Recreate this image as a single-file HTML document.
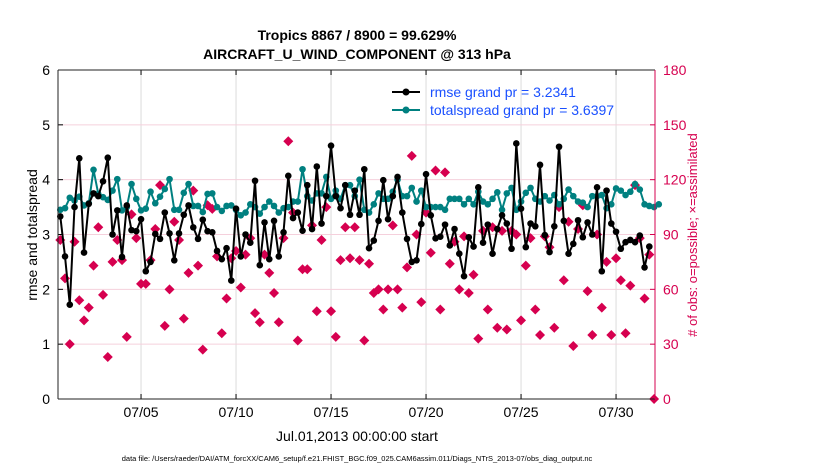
<!DOCTYPE html>
<html><head><meta charset="utf-8">
<style>
body{margin:0;background:#fff;width:830px;height:470px;overflow:hidden;font-family:"Liberation Sans",Arial,sans-serif;}
</style></head>
<body>
<svg id="chart" width="830" height="470" xmlns="http://www.w3.org/2000/svg" font-family="Liberation Sans, Arial, sans-serif">
<text x="357" y="40" text-anchor="middle" font-size="14" font-weight="bold">Tropics 8867 / 8900 = 99.629%</text>
<text x="357" y="59" text-anchor="middle" font-size="14" font-weight="bold">AIRCRAFT_U_WIND_COMPONENT @ 313 hPa</text>
<g id="grid"></g>
<g id="marks"></g>
<g id="axes"></g>
<text transform="translate(37,235) rotate(-90)" text-anchor="middle" font-size="14">rmse and totalspread</text>
<text transform="translate(697,235) rotate(-90)" text-anchor="middle" font-size="13" fill="#d6004f"># of obs: o=possible; ×=assimilated</text>
<text x="357" y="441" text-anchor="middle" font-size="14">Jul.01,2013 00:00:00 start</text>
<text x="357" y="461" text-anchor="middle" font-size="7.5">data file: /Users/raeder/DAI/ATM_forcXX/CAM6_setup/f.e21.FHIST_BGC.f09_025.CAM6assim.011/Diags_NTrS_2013-07/obs_diag_output.nc</text>
<g>
<line x1="392" y1="92" x2="420" y2="92" stroke="#000" stroke-width="2"/>
<circle cx="406" cy="92" r="3.5" fill="#000"/>
<text x="430" y="97" font-size="14" fill="#1a50ff">rmse grand pr = 3.2341</text>
<line x1="392" y1="110" x2="420" y2="110" stroke="#008080" stroke-width="2"/>
<circle cx="406" cy="110" r="3.5" fill="#008080"/>
<text x="430" y="115" font-size="14" fill="#1a50ff">totalspread grand pr = 3.6397</text>
</g>
</svg>
<script>
const rmse=[3.33,2.6,1.72,3.5,4.39,2.67,3.56,3.75,3.7,3.97,4.4,3.0,3.44,2.59,3.53,3.08,3.06,3.28,2.33,2.5,3.01,2.92,3.4,3.02,2.53,3.02,3.36,3.53,3.13,2.92,3.27,3.06,
3.04,2.7,2.55,2.75,2.16,3.47,2.6,3.0,2.85,3.98,2.44,3.22,2.55,3.25,2.6,3.04,4.07,3.3,3.4,3.07,3.9,3.1,4.24,3.2,3.7,4.62,3.7,3.48,3.9,3.36,3.8,
3.36,4.19,2.75,2.89,3.25,3.99,3.28,3.7,4.05,3.4,2.92,2.5,2.53,3.19,4.1,3.35,2.93,2.96,3.18,2.8,3.1,2.65,2.24,2.95,2.78,3.86,2.85,3.18,2.65,3.1,
3.35,3.2,2.74,4.66,3.47,2.77,3.2,3.15,4.27,2.99,2.68,3.15,4.6,3.25,2.65,2.83,3.26,2.95,3.22,3.0,3.86,2.33,3.8,3.2,3.05,2.74,2.86,2.9,2.86,2.98,2.4,2.78];
const spread=[3.45,3.48,3.67,3.62,3.69,3.53,3.57,4.18,3.74,3.68,3.63,3.8,4.01,3.44,3.5,3.92,3.65,3.44,3.47,3.78,3.57,3.69,3.83,4.01,3.45,3.45,3.76,3.92,3.52,3.52,3.41,3.74,
3.75,3.5,3.43,3.52,3.53,3.45,3.35,3.4,3.55,3.5,3.38,3.5,3.6,3.52,3.4,3.48,3.5,3.6,3.6,4.19,3.7,3.62,3.75,3.75,4.05,3.65,3.8,3.65,3.9,3.9,3.7,
4.0,3.45,3.4,3.55,3.75,3.65,3.65,3.78,4.0,3.7,3.7,3.85,3.6,3.8,3.5,3.5,3.5,3.5,3.45,3.65,3.65,3.65,3.55,3.65,3.55,3.78,3.6,3.55,3.65,3.77,
3.45,3.75,3.85,3.45,3.6,3.76,3.85,3.65,3.6,3.7,3.62,3.72,3.55,3.65,3.82,3.7,3.6,3.58,3.5,3.7,3.7,3.72,3.48,3.55,3.84,3.8,3.72,3.78,3.92,3.82,3.55,3.52,3.5,3.55];
const nobs=[87,66,30,86,54,43,50,73,94,57,23,75,87,76,34,101,88,63,63,76,93,117,40,60,97,87,44,69,114,73,27,106,
104,78,36,55,77,81,61,79,88,47,42,79,69,58,42,88,141,102,32,71,71,95,48,87,105,48,34,76,94,77,
94,76,32,74,58,60,49,60,95,60,50,72,133,90,53,102,80,125,49,124,74,86,60,89,58,68,33,92,49,94,39,92,
38,92,90,43,73,88,49,35,89,83,39,105,65,97,29,93,106,59,35,90,50,75,35,77,65,36,62,117,88,55,79,0];
const xTickLabels=["07/05","07/10","07/15","07/20","07/25","07/30"];
const xTickDays=[5,10,15,20,25,30];
const yTicks=[0,1,2,3,4,5,6];
const y2Ticks=[0,30,60,90,120,150,180];

const L=58,R=655,T=70,B=399;
const d0=0.63,d1=32.05;
const xs=d=>L+(d-d0)/(d1-d0)*(R-L);
const ys=v=>B-v/6*(B-T);
const ys2=v=>B-v/180*(B-T);
const tOf=i=>0.75+i*0.25;
const NS="http://www.w3.org/2000/svg";
function mk(parent,tag,attrs){const e=document.createElementNS(NS,tag);for(const k in attrs)e.setAttribute(k,attrs[k]);parent.appendChild(e);return e;}
const grid=document.getElementById('grid'),marks=document.getElementById('marks'),axes=document.getElementById('axes');
mk(grid,'rect',{x:L,y:T,width:R-L,height:B-T,fill:'#fff'});
xTickDays.forEach((d,k)=>{
  const g=mk(grid,'line',{x1:xs(d),x2:xs(d),y1:T,y2:B,stroke:'#dcdcdc','stroke-width':1});
  
  
  const t=mk(axes,'text',{x:xs(d),y:417,'text-anchor':'middle','font-size':14});
  t.textContent=xTickLabels[k];
  
  
  mk(axes,'line',{x1:xs(d),x2:xs(d),y1:B,y2:B-5,stroke:'#000'});
  mk(axes,'line',{x1:xs(d),x2:xs(d),y1:T,y2:T+5,stroke:'#000'});
});
y2Ticks.forEach(v=>{
  if(v>0&&v<180){const g=mk(grid,'line',{x1:L,x2:R,y1:ys2(v),y2:ys2(v),stroke:'#f5d0dc','stroke-width':1});
  
  }
  const t=mk(axes,'text',{x:R+8,y:ys2(v)+5,'font-size':14,fill:'#d6004f'});
  t.textContent=v;
  
  
  mk(axes,'line',{x1:R,x2:R-5,y1:ys2(v),y2:ys2(v),stroke:'#d6004f'});
});
yTicks.forEach(v=>{
  const t=mk(axes,'text',{x:L-8,y:ys(v)+5,'text-anchor':'end','font-size':14});
  t.textContent=v;
  
  
  mk(axes,'line',{x1:L,x2:L+5,y1:ys(v),y2:ys(v),stroke:'#000'});
});
mk(axes,'line',{x1:L,x2:R,y1:T,y2:T,stroke:'#222'});
mk(axes,'line',{x1:L,x2:R,y1:B,y2:B,stroke:'#222'});
mk(axes,'line',{x1:L,x2:L,y1:T,y2:B,stroke:'#222'});
mk(axes,'line',{x1:R,x2:R,y1:T,y2:B,stroke:'#d6004f'});
nobs.forEach((v,i)=>{
  const x=Math.min(xs(tOf(i)),R),y=ys2(v);
  const p=mk(marks,'path',{d:`M${x-5},${y}L${x},${y-5}L${x+5},${y}L${x},${y+5}Z`,fill:'#d6004f'});
  
  
});
function series(arr,color,name){
  const pts=arr.map((v,i)=>xs(tOf(i)).toFixed(1)+','+ys(v).toFixed(1)).join(' ');
  const pl=mk(marks,'polyline',{points:pts,fill:'none',stroke:color,'stroke-width':2,'stroke-linejoin':'round'});
  
  
  arr.forEach((v,i)=>{
    const c=mk(marks,'circle',{cx:xs(tOf(i)),cy:ys(v),r:3.3,fill:color});
    
    
  });
}
series(spread,'#008080','totalspread');
series(rmse,'#000','rmse');
</script>
</body></html>
